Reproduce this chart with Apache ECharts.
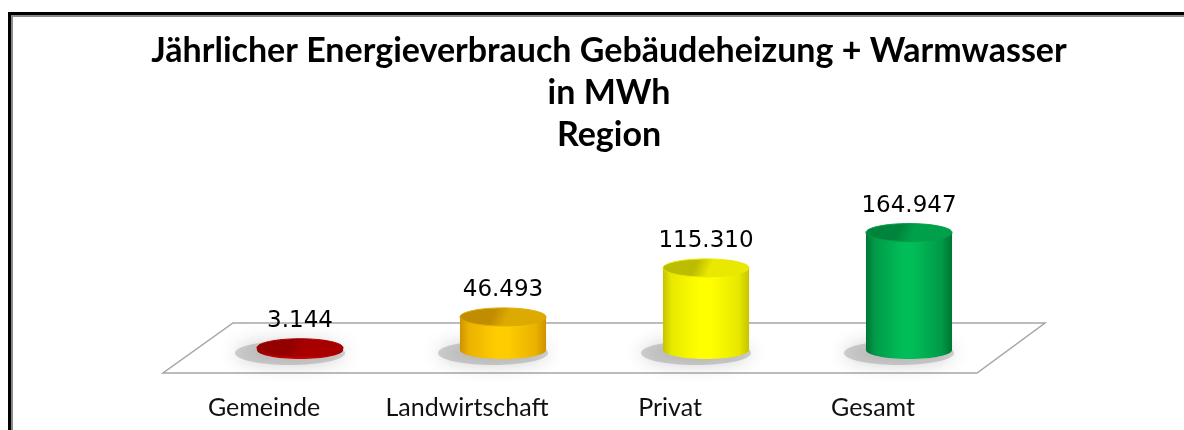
<!DOCTYPE html>
<html>
<head>
<meta charset="utf-8">
<script src="https://cdn.jsdelivr.net/npm/echarts@6/dist/echarts.min.js"></script>
<style>html,body{margin:0;padding:0;background:#fff;}#c{width:1184px;height:430px;}</style>
</head>
<body>
<div id="c"></div>
<script>
const categories = ['Gemeinde', 'Landwirtschaft', 'Privat', 'Gesamt'];
const values = [3144, 46493, 115310, 164947];
const titleLines = ['Jährlicher Energieverbrauch Gebäudeheizung + Warmwasser', 'in MWh', 'Region'];

// style palette: [edge, mid, light, topDark, topLight]
const palette = [
  ['#8c0000', '#b00000', '#cc0000', '#930000', '#a80000'],
  ['#cf9200', '#eab200', '#ffcc00', '#c08c00', '#dcaa00'],
  ['#c4c400', '#e8e800', '#ffff00', '#bcbc00', '#e8e800'],
  ['#007434', '#009a48', '#00bd58', '#00843b', '#00a04a']
];

function fmt(v) {
  return String(Math.round(v)).replace(/\B(?=(\d{3})+(?!\d))/g, '.');
}

const chart = echarts.init(document.getElementById('c'), null, {renderer: 'canvas'});

function grad(c, dir) {
  if (dir === 'h') {
    return new echarts.graphic.LinearGradient(0, 0, 1, 0, [
      {offset: 0, color: c[0]}, {offset: 0.1, color: c[1]},
      {offset: 0.42, color: c[2]}, {offset: 0.55, color: c[2]},
      {offset: 0.88, color: c[1]}, {offset: 1, color: c[0]}
    ]);
  }
  return new echarts.graphic.LinearGradient(0, 0, 0.5, 1, [
    {offset: 0, color: c[3]}, {offset: 0.7, color: c[3]}, {offset: 1, color: c[4]}
  ]);
}

const option = {
  backgroundColor: '#ffffff',
  animation: false,
  title: {
    text: titleLines.join('\n'),
    left: 604,
    top: 25,
    textAlign: 'center',
    textStyle: {fontFamily: 'Lato', fontWeight: 'bold', fontSize: 34, lineHeight: 42, color: '#000'}
  },
  grid: {left: 198.5, right: 1184 - 1010.5, top: 207.6, bottom: 430 - 350},
  xAxis: {
    type: 'category',
    data: categories,
    axisLine: {show: false},
    axisTick: {show: false},
    axisLabel: {
      interval: 0,
      hideOverlap: false,
      margin: 45,
      fontFamily: 'Lato',
      fontSize: 25,
      color: '#111',
      padding: [0, 72, 0, 0]
    }
  },
  yAxis: {type: 'value', min: 0, max: 200000, show: false, splitLine: {show: false}},
  graphic: [
    {type: 'polygon', z: -10, silent: true,
     shape: {points: [[233, 323], [1045, 323], [977, 373], [163, 373]]},
     style: {fill: '#ffffff', stroke: '#a6a6a6', lineWidth: 1.5}},
    {type: 'rect', z: -10, shape: {x: 8, y: 12, width: 1180, height: 3}, style: {fill: '#000'}},
    {type: 'rect', z: -10, shape: {x: 8, y: 12, width: 3, height: 420}, style: {fill: '#000'}},
    {type: 'rect', z: -10, shape: {x: 11, y: 15, width: 1180, height: 2}, style: {fill: '#8a8a8a'}},
    {type: 'rect', z: -10, shape: {x: 11, y: 15, width: 2, height: 420}, style: {fill: '#8a8a8a'}}
  ],
  series: [{
    type: 'custom',
    data: values.map((v, i) => [i, v]),
    encode: {x: 0, y: 1},
    renderItem: function (params, api) {
      const i = api.value(0);
      const v = api.value(1);
      const base = api.coord([i, 0]);
      const top = api.coord([i, v]);
      const bw = api.size([1, 0])[0];
      const rx = bw * 0.212;
      const ry = 9;
      const cx = base[0];
      const c = palette[i % palette.length];
      const h = Math.max(base[1] - top[1], 0);
      return {
        type: 'group',
        children: [
          {type: 'ellipse', shape: {cx: cx - 10, cy: base[1] + 3, rx: rx + 12, ry: ry + 3},
           style: {fill: 'rgba(130,130,130,0.35)', shadowBlur: 18, shadowColor: 'rgba(70,70,70,0.7)'}},
          {type: 'ellipse', shape: {cx: cx, cy: base[1], rx: rx, ry: ry}, style: {fill: grad(c, 'h')}},
          {type: 'rect', shape: {x: cx - rx, y: top[1], width: rx * 2, height: h}, style: {fill: grad(c, 'h')}},
          {type: 'ellipse', shape: {cx: cx, cy: top[1], rx: rx, ry: ry},
           style: {fill: grad(c, 'v'), stroke: c[4], lineWidth: 1}},
          {type: 'text', x: cx, y: top[1] - 27,
           style: {text: fmt(v), fontFamily: 'DejaVu Sans', fontSize: 23, fill: '#000',
                   align: 'center', verticalAlign: 'middle'}}
        ]
      };
    }
  }]
};
chart.setOption(option);
</script>
</body>
</html>
